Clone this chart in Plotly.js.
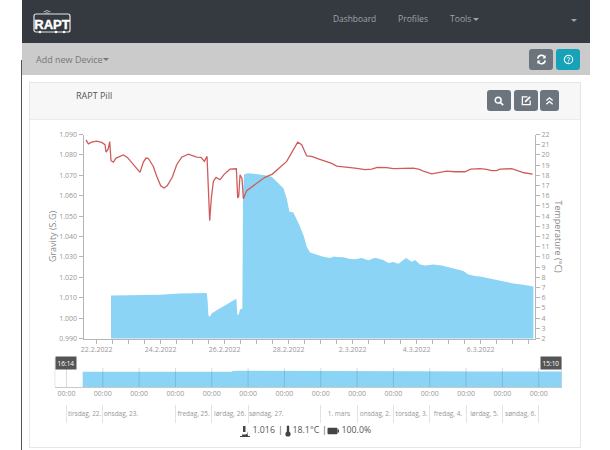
<!DOCTYPE html>
<html><head><meta charset="utf-8">
<script src="https://cdn.plot.ly/plotly-3.0.1.min.js"></script>
<style>
html,body{margin:0;padding:0;background:#fff;width:610px;height:450px;overflow:hidden;font-family:"Open Sans",sans-serif}
.b{position:absolute}
.t{position:absolute;white-space:nowrap;line-height:1}
.btn{position:absolute;border-radius:3px;background:#6c757d;display:flex;align-items:center;justify-content:center}
#chart{position:absolute;left:0;top:0;width:610px;height:450px}
</style></head><body>
<div class="b" style="left:21px;top:60px;width:1px;height:390px;background:#555"></div>
<div class="b" style="left:22px;top:0;width:568px;height:43px;background:#343a40"></div>
<div class="b" style="left:22px;top:43px;width:568px;height:32px;background:#cbcbcb"></div>
<svg class="b" style="left:31px;top:8px" width="42" height="27" viewBox="0 0 42 27">
<rect x="3" y="6" width="36" height="18" rx="2" fill="none" stroke="#e8e8e8" stroke-width="1.2"/>
<path d="M12.5 4Q16 1 19.5 4M14 5.5Q16 4 18 5.5" fill="none" stroke="#bbb" stroke-width="1"/>
<text x="21" y="21" text-anchor="middle" font-family="Liberation Sans" font-weight="700" font-size="13" fill="#fff" stroke="#fff" stroke-width="0.4">RAPT</text>
<circle cx="9" cy="24" r="1.3" fill="#fff"/><circle cx="25" cy="24" r="1.3" fill="#fff"/><circle cx="33" cy="24" r="1.3" fill="#fff"/></svg>
<div class="t" style="left:333px;top:15px;font-size:8.4px;color:#a0a3a6">Dashboard</div>
<div class="t" style="left:398px;top:15px;font-size:8.6px;color:#a0a3a6">Profiles</div>
<div class="t" style="left:450px;top:15px;font-size:8.6px;color:#a0a3a6">Tools</div>
<div class="b" style="left:473px;top:18px;border:3px solid transparent;border-top-color:#a0a3a6"></div>
<div class="b" style="left:571px;top:19px;border:3px solid transparent;border-top-color:#a0a3a6"></div>
<div class="t" style="left:36px;top:54.5px;font-size:9px;color:#777">Add new Device</div>
<div class="b" style="left:103px;top:58px;border:3px solid transparent;border-top-color:#777"></div>
<div class="btn" style="left:529px;top:49px;width:24px;height:21px">
<svg width="11" height="11" viewBox="0 0 12 12"><path d="M2 5A4 4 0 0 1 9.5 3.5M10 7A4 4 0 0 1 2.5 8.5" fill="none" stroke="#fff" stroke-width="1.8"/><path d="M10.5 1V5H7M1.5 11V7H5" fill="#fff"/></svg></div>
<div class="btn" style="left:556px;top:49px;width:24px;height:21px;background:#17a2b8">
<svg width="11" height="11" viewBox="0 0 12 12"><circle cx="6" cy="6" r="4.6" fill="none" stroke="#fff" stroke-width="1.2"/><path d="M4.6 4.8A1.4 1.4 0 1 1 6 6.5V7.3M6 8.3V9.3" fill="none" stroke="#fff" stroke-width="1"/></svg></div>
<div class="b" style="left:29px;top:82px;width:552px;height:366px;box-sizing:border-box;border:1px solid #e6e6e6;background:#fff"></div>
<div class="b" style="left:30px;top:83px;width:550px;height:36px;background:#f7f7f7;border-bottom:1px solid #ececec"></div>
<div class="t" style="left:76px;top:91px;font-size:9px;color:#555">RAPT Pill</div>
<div class="btn" style="left:487px;top:90px;width:24px;height:21px">
<svg width="10" height="10" viewBox="0 0 12 12"><circle cx="5" cy="5" r="3.5" fill="none" stroke="#fff" stroke-width="1.8"/><path d="M7.5 7.5L11 11" stroke="#fff" stroke-width="2"/></svg></div>
<div class="btn" style="left:514px;top:90px;width:24px;height:21px">
<svg width="11" height="11" viewBox="0 0 12 12"><path d="M7 2H1.5V10.5H10V6" fill="none" stroke="#fff" stroke-width="1.4"/><path d="M4.5 7.5L10 2" stroke="#fff" stroke-width="2"/></svg></div>
<div class="btn" style="left:540px;top:90px;width:19px;height:21px">
<svg width="9" height="10" viewBox="0 0 10 10"><path d="M1.5 4.5L5 1.5L8.5 4.5M1.5 8.5L5 5.5L8.5 8.5" fill="none" stroke="#fff" stroke-width="1.5"/></svg></div>
<svg class="b" style="left:240px;top:425px" width="10" height="12" viewBox="0 0 10 12"><path d="M0 11H10V12H0ZM2 9.5H8V11H2ZM3 1H5.5V7H3ZM6.5 4A3.5 3.5 0 0 1 7 9.5H4.5A3 3 0 0 0 6.5 4Z" fill="#444"/></svg>
<div class="t" style="left:252.5px;top:426px;font-size:8.8px;color:#555">1.016</div>
<div class="t" style="left:278px;top:426px;font-size:8.8px;color:#555">|</div>
<svg class="b" style="left:285px;top:425px" width="6" height="12" viewBox="0 0 6 12"><rect x="1.8" y="0.5" width="2.4" height="8" rx="1.2" fill="#444"/><circle cx="3" cy="9" r="2.6" fill="#444"/></svg>
<div class="t" style="left:292.5px;top:426px;font-size:8.8px;color:#555">18.1°C</div>
<div class="t" style="left:322px;top:426px;font-size:8.8px;color:#555">|</div>
<svg class="b" style="left:327px;top:427px" width="12" height="8" viewBox="0 0 12 8"><rect x="0.5" y="0.8" width="10" height="6.4" rx="1" fill="#444"/><rect x="10.5" y="2.5" width="1.5" height="3" fill="#444"/></svg>
<div class="t" style="left:341.5px;top:426px;font-size:8.8px;color:#555">100.0%</div>
<div id="chart"></div>
<script>
var tempHours=[-8,-6.25,-3.75,0,3.75,6.25,7,8.5,9.75,10.75,12.5,14.5,20,23,32.5,35,37,38.75,42.5,45,48,50.5,53,56.75,60,63.75,68.75,75,78.25,80.75,82.75,83.75,84.75,86,87.5,89.5,92.5,95.75,100,104.75,105.75,106.5,107.5,109,110,112.5,120,126.25,131.75,142.5,150.75,153.75,157.5,161.25,166.25,170,176.25,180,185,193.75,201.25,206.25,210.5,217.5,222.5,230,232.5,237.5,242,245,251.25,257.5,262.5,268.75,276.25,280.5,287.5,292.5,296.25,300,302.5,311.25,315,320.5,327];
var tempValues=[21.48,21.09,21.25,21.35,21.22,21,20.27,20.53,21.3,19.43,19.3,19.69,20,19.75,18.29,19.3,19.69,19.65,18.87,17.9,16.98,16.76,17,17.83,19.04,19.78,20.08,19.78,19.75,19.36,19.85,16.43,13.56,15.78,17.4,17.8,17.57,18.12,18.6,18.64,15.78,15.94,18.06,17.67,15.71,16.5,17.24,17.8,18.12,19.36,21.25,21,19.9,19.85,19.6,19.43,19.17,18.9,18.84,18.7,18.55,18.6,18.78,18.75,18.65,18.65,18.7,18.7,18.58,18.4,18.15,18.3,18.4,18.35,18.35,18.6,18.65,18.58,18.45,18.45,18.6,18.65,18.5,18.25,18.12];
var gravityHours=[10.75,32.5,47.5,62.5,82.5,83.25,83.75,84.75,86.25,90,97.5,103.75,104.75,105.5,106.5,107.5,108.75,109.25,109.75,110.5,113.75,120,125,131.25,135,140,142.5,144.5,147.5,152,155.5,157.5,160,163.75,167.5,170,175,178,180,185,190,193.75,198.75,203.75,208.75,215,218.75,222.5,226.25,232,236.25,238.75,242.5,246.25,252.5,258.75,265,270,275,278.75,283.75,288.75,293.75,298.75,305,312.5,320,327.5];
var gravityValues=[1.0111,1.0114,1.0114,1.0121,1.0123,1.008,1.0015,1.0005,1.0023,1.0039,1.0067,1.0092,1.0095,1.0015,1.0018,1.0042,1.0047,1.0047,1.06,1.0705,1.071,1.0706,1.0702,1.0693,1.0669,1.0636,1.0587,1.0522,1.0518,1.0456,1.0399,1.035,1.0322,1.0312,1.0306,1.0301,1.0294,1.0302,1.0299,1.0298,1.029,1.0288,1.0294,1.0283,1.0296,1.0285,1.027,1.0275,1.0267,1.0294,1.0276,1.0285,1.0263,1.0258,1.0263,1.0258,1.025,1.024,1.0231,1.0214,1.0206,1.0203,1.0195,1.0188,1.0182,1.017,1.0164,1.0155];
var dayLabels=["tirsdag, 22.","onsdag, 23.","fredag, 25.","lørdag, 26.","søndag, 27.","1. mars","onsdag, 2.","torsdag, 3.","fredag, 4.","lørdag, 5.","søndag, 6."];
var dayLabelDates=["2022-02-22 12:00","2022-02-23 12:00","2022-02-25 12:00","2022-02-26 12:00","2022-02-27 12:00","2022-03-01 12:00","2022-03-02 12:00","2022-03-03 12:00","2022-03-04 12:00","2022-03-05 12:00","2022-03-06 12:00"];
var daySeparators=["2022-02-22","2022-02-23","2022-02-25","2022-02-26","2022-02-27","2022-03-01","2022-03-02","2022-03-03","2022-03-04","2022-03-05","2022-03-06","2022-03-07"];
var navDays=["2022-02-22","2022-02-23","2022-02-24","2022-02-25","2022-02-26","2022-02-27","2022-02-28","2022-03-01","2022-03-02","2022-03-03","2022-03-04","2022-03-05","2022-03-06","2022-03-07"];
var mainRange=["2022-02-21 14:06","2022-03-07 16:44"];
var navRange=["2022-02-21 16:14","2022-03-07 15:10"];
var navHandles=["16:14","15:10"];
function toDate(h){return new Date(Date.UTC(2022,1,22)+h*3600000).toISOString().slice(0,19).replace("T"," ");}
var W=610,H=450;
function dx(a,b){return [a/W,b/W];}
function dy(top,bot){return [1-bot/H,1-top/H];}
var tick={family:"Open Sans",size:7,color:"#979797"};
var gravX=gravityHours.map(toDate),tempX=tempHours.map(toDate);
var data=[
{x:gravX,y:gravityValues,xaxis:"x",yaxis:"y",mode:"lines",line:{width:0,color:"#8bd4f6"},fill:"tozeroy",fillcolor:"#8bd4f6",hoverinfo:"skip"},
{x:tempX,y:tempValues,xaxis:"x",yaxis:"y2",mode:"lines",line:{width:1.3,color:"#cf5c5c"},hoverinfo:"skip"},
{x:gravX,y:gravityValues,xaxis:"x2",yaxis:"y3",mode:"lines",line:{width:0,color:"#8bd4f6"},fill:"tozeroy",fillcolor:"#8bd4f6",hoverinfo:"skip"},
{x:dayLabelDates,y:dayLabels.map(function(){return 0.5;}),text:dayLabels,xaxis:"x3",yaxis:"y4",mode:"text",textposition:"middle center",textfont:{family:"Open Sans",size:6.5,color:"#979797"},hoverinfo:"skip"}
];
var axisLine="#b5b5b5";
var navLines=navDays.map(function(d){return {type:"line",layer:"above",xref:"x2",yref:"paper",x0:d,x1:d,y0:1-387/H,y1:1-368/H,line:{color:"rgba(80,110,130,0.3)",width:0.8}};});
var handleLines=navRange.map(function(d){return {type:"line",xref:"x2",yref:"paper",x0:d,x1:d,y0:1-387/H,y1:1-358/H,line:{color:"#c4c4c4",width:1}};});
var layout={width:W,height:H,margin:{l:0,r:0,t:0,b:0},paper_bgcolor:"rgba(0,0,0,0)",plot_bgcolor:"rgba(0,0,0,0)",showlegend:false,
xaxis:{domain:dx(83.5,535),range:mainRange,type:"date",anchor:"y",tick0:"2022-02-22",dtick:172800000,tickformat:"%-d.%-m.%Y",ticks:"outside",ticklen:4,tickcolor:axisLine,showgrid:false,zeroline:false,showline:true,linecolor:axisLine,tickfont:tick,
 minor:{dtick:43200000,tick0:"2022-02-22",ticks:"outside",ticklen:4,tickcolor:axisLine,showgrid:false}},
yaxis:{domain:dy(134.5,338.5),range:[0.99,1.09],anchor:"x",dtick:0.01,tickformat:".3f",ticks:"outside",ticklen:4,tickcolor:axisLine,showgrid:false,zeroline:false,showline:true,linecolor:axisLine,tickfont:tick,
 title:{text:"Gravity (S.G)",font:{family:"Open Sans",size:9,color:"#8a8a8a"},standoff:0}},
yaxis2:{domain:dy(134.5,339),range:[2,22],anchor:"x",overlaying:"y",side:"right",dtick:1,ticks:"outside",ticklen:4,tickcolor:axisLine,showgrid:false,zeroline:false,showline:true,linecolor:axisLine,tickfont:tick},
xaxis2:{domain:dx(54.7,561.7),range:navRange,type:"date",anchor:"y3",tick0:"2022-02-22",dtick:86400000,tickformat:"%H:%M",ticks:"",showgrid:false,zeroline:false,showline:true,linecolor:"#c9c9c9",tickfont:tick},
yaxis3:{domain:dy(368,387),range:[0,1.25],anchor:"x2",visible:false,showgrid:false,zeroline:false,fixedrange:true},
xaxis3:{domain:dx(54.7,561.7),range:navRange,type:"date",anchor:"y4",tickmode:"array",tickvals:daySeparators,ticktext:daySeparators.map(function(){return "";}),ticks:"",showgrid:true,gridcolor:"#dcdcdc",gridwidth:0.8,zeroline:false,showline:false},
yaxis4:{domain:dy(405,423),range:[0,1],anchor:"x3",visible:false,showgrid:false,zeroline:false},
shapes:navLines.concat(handleLines),
annotations:[
{xref:"paper",yref:"paper",x:558/W,y:1-236.5/H,xanchor:"center",yanchor:"middle",text:"Temperature (°C)",textangle:90,showarrow:false,font:{family:"Open Sans",size:9,color:"#8a8a8a"}},
{xref:"x2",yref:"paper",x:navRange[0],y:1-362.5/H,xanchor:"left",yanchor:"middle",text:navHandles[0],showarrow:false,bgcolor:"#555555",font:{family:"Open Sans",size:6.5,color:"#fff"},borderpad:1.5},
{xref:"x2",yref:"paper",x:navRange[1],y:1-362.5/H,xanchor:"right",yanchor:"middle",text:navHandles[1],showarrow:false,bgcolor:"#555555",font:{family:"Open Sans",size:6.5,color:"#fff"},borderpad:1.5}
]};
Plotly.newPlot("chart",data,layout,{displayModeBar:false,staticPlot:true});
</script></body></html>
